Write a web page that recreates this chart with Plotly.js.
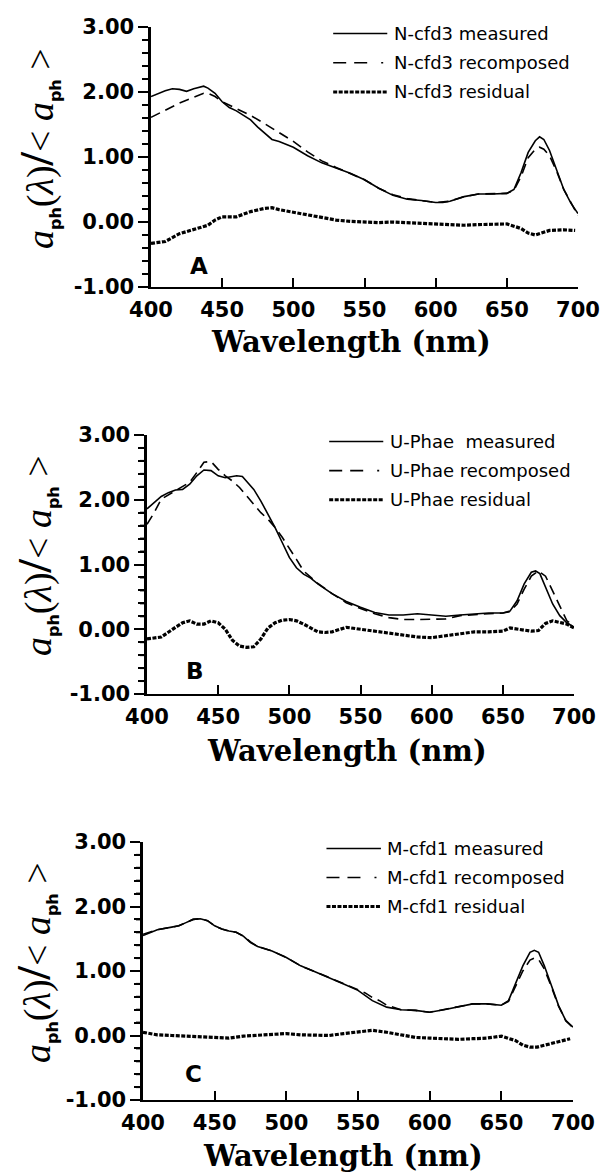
<!DOCTYPE html>
<html>
<head>
<meta charset="utf-8">
<script src="https://cdn.plot.ly/plotly-3.0.1.min.js"></script>
<style>html,body{margin:0;padding:0;background:#fff;}#chart{width:613px;height:1174px;}</style>
</head>
<body>
<div id="chart"></div>
<script>
// ---------- data ----------
const panelLetters = ['A', 'B', 'C'];
const seriesNames = [
  ['N-cfd3 measured', 'N-cfd3 recomposed', 'N-cfd3 residual'],
  ['U-Phae  measured', 'U-Phae recomposed', 'U-Phae residual'],
  ['M-cfd1 measured', 'M-cfd1 recomposed', 'M-cfd1 residual']
];
const xTickVals = [400, 450, 500, 550, 600, 650, 700];
const xTickText = ['400', '450', '500', '550', '600', '650', '700'];
const yTickVals = [-1, 0, 1, 2, 3];
const yTickText = ['-1.00', '0.00', '1.00', '2.00', '3.00'];
const yMinorStep = 0.2;

// Panel A
const wlA_meas = [400,410,415,420,425,430,437,440,445,450,455,460,465,470,475,480,485,490,495,500,510,520,530,540,550,560,570,580,590,600,605,610,620,630,640,650,655,660,665,670,673,676,680,685,690,695,700];
const A_meas = [1.93,2.02,2.05,2.04,2.01,2.05,2.09,2.06,1.98,1.85,1.76,1.71,1.64,1.57,1.46,1.36,1.27,1.24,1.20,1.15,1.02,0.91,0.83,0.75,0.65,0.52,0.41,0.35,0.33,0.30,0.30,0.32,0.39,0.43,0.43,0.44,0.50,0.76,1.07,1.25,1.31,1.27,1.10,0.81,0.50,0.29,0.13];
const wlA_rec = [400,410,420,430,437,440,445,450,460,470,480,490,500,510,520,530,540,550,560,570,580,590,600,610,620,630,640,650,655,660,665,670,673,676,680,685,690,695,700];
const A_rec = [1.61,1.72,1.83,1.92,1.98,1.98,1.93,1.85,1.75,1.64,1.51,1.38,1.24,1.08,0.94,0.84,0.75,0.65,0.52,0.42,0.36,0.33,0.30,0.32,0.39,0.43,0.43,0.44,0.49,0.70,0.99,1.12,1.15,1.12,1.02,0.78,0.50,0.29,0.10];
const wlA_res = [400,410,420,430,440,445,450,460,470,480,485,490,500,510,520,530,540,550,560,570,580,590,600,610,620,630,640,650,660,665,670,675,680,690,698];
const A_res = [-0.33,-0.30,-0.18,-0.12,-0.05,0.03,0.08,0.08,0.16,0.21,0.22,0.19,0.15,0.11,0.06,0.03,0.01,0.0,-0.01,0.0,-0.01,-0.02,-0.03,-0.05,-0.05,-0.04,-0.03,-0.03,-0.10,-0.17,-0.20,-0.17,-0.13,-0.12,-0.13];

// Panel B
const wlB_meas = [400,405,410,415,420,425,430,435,440,445,450,455,460,463,467,470,475,480,485,490,495,500,505,510,515,520,530,540,550,560,570,580,590,600,610,620,630,640,650,655,660,665,670,673,676,680,685,690,695,700];
const B_meas = [1.86,1.96,2.05,2.11,2.15,2.16,2.24,2.37,2.46,2.45,2.37,2.34,2.36,2.37,2.36,2.29,2.16,1.98,1.78,1.57,1.34,1.11,0.95,0.85,0.79,0.70,0.55,0.43,0.34,0.26,0.22,0.22,0.24,0.22,0.20,0.22,0.24,0.25,0.25,0.28,0.44,0.70,0.88,0.90,0.86,0.64,0.39,0.21,0.10,0.03];
const wlB_rec = [400,405,410,420,430,435,440,445,450,455,460,465,470,475,480,485,490,495,500,505,510,515,520,530,540,550,560,570,580,590,600,610,620,630,640,650,655,660,665,670,675,680,685,690,695,700];
const B_rec = [1.62,1.80,2.01,2.14,2.27,2.42,2.58,2.59,2.47,2.37,2.29,2.19,2.06,1.93,1.80,1.70,1.57,1.42,1.26,1.08,0.90,0.80,0.71,0.55,0.41,0.32,0.24,0.18,0.15,0.15,0.16,0.16,0.21,0.23,0.24,0.25,0.27,0.39,0.62,0.82,0.90,0.82,0.59,0.34,0.13,0.05];
const wlB_res = [400,410,420,425,430,435,440,445,450,455,460,465,470,475,480,485,490,495,500,505,510,515,520,525,530,540,550,560,570,580,590,600,610,620,630,640,650,655,660,670,675,680,685,690,695,700];
const B_res = [-0.15,-0.12,0.03,0.10,0.13,0.08,0.08,0.13,0.10,0.0,-0.17,-0.26,-0.28,-0.27,-0.15,0.02,0.10,0.14,0.15,0.13,0.08,0.02,-0.04,-0.05,-0.04,0.03,0.0,-0.03,-0.07,-0.09,-0.12,-0.13,-0.10,-0.07,-0.04,-0.04,-0.03,0.02,0.0,-0.03,-0.02,0.09,0.13,0.10,0.08,0.02];

// Panel C
const wlC_meas = [400,405,410,420,425,430,435,440,445,450,455,460,465,470,475,480,490,500,510,520,530,540,550,560,570,580,590,600,610,620,630,640,650,655,660,665,670,673,676,680,685,690,695,700];
const C_meas = [1.55,1.60,1.64,1.68,1.70,1.75,1.80,1.81,1.78,1.70,1.65,1.62,1.60,1.54,1.44,1.38,1.31,1.21,1.08,0.99,0.90,0.80,0.70,0.54,0.44,0.40,0.39,0.36,0.40,0.45,0.49,0.49,0.47,0.54,0.80,1.08,1.29,1.32,1.29,1.08,0.77,0.46,0.23,0.13];
const wlC_rec = [400,405,410,420,425,430,435,440,445,450,455,460,465,470,475,480,490,500,510,520,530,540,550,555,560,565,570,580,590,600,610,620,630,640,650,655,660,665,670,673,676,680,685,690,695,700];
const C_rec = [1.57,1.61,1.64,1.68,1.70,1.75,1.80,1.81,1.78,1.70,1.65,1.62,1.60,1.54,1.45,1.38,1.31,1.21,1.08,0.99,0.90,0.80,0.71,0.66,0.59,0.54,0.47,0.40,0.39,0.36,0.40,0.45,0.49,0.49,0.47,0.53,0.76,1.00,1.17,1.20,1.18,1.03,0.75,0.45,0.23,0.12];
const wlC_res = [400,410,420,430,440,450,460,470,480,490,500,510,520,530,540,550,560,570,580,590,600,610,620,630,640,650,660,665,670,675,680,690,698];
const C_res = [0.05,0.01,0.0,-0.01,-0.03,-0.03,-0.04,-0.01,0.0,0.01,0.03,0.01,0.0,0.0,0.03,0.05,0.08,0.05,0.01,-0.03,-0.04,-0.05,-0.06,-0.05,-0.04,-0.01,-0.08,-0.15,-0.18,-0.18,-0.15,-0.10,-0.05];

// legend rows (y values in data units) and legend sample span (nm)
const legendRowsY = [2.9, 2.45, 2.0];
const legendLineX = [528, 566];
const legendTextX = 569;
const letterPos = [[434, -0.68], [434, -0.64], [435, -0.6]];

// ---------- layout geometry (pixels) ----------
const W = 613, H = 1174;
const panelsPx = [
  {x0: 151, x1: 578, y0: 27, y1: 287, ytx: 37, yty: 149, xtx: 351, xty: 342},
  {x0: 147, x1: 574, y0: 435, y1: 694, ytx: 36, yty: 556, xtx: 347, xty: 751},
  {x0: 143, x1: 573, y0: 842, y1: 1100, ytx: 34, yty: 963, xtx: 343, xty: 1156}
];

const panels = [
  {wm: wlA_meas, m: A_meas, wr: wlA_rec, r: A_rec, ws: wlA_res, s: A_res},
  {wm: wlB_meas, m: B_meas, wr: wlB_rec, r: B_rec, ws: wlB_res, s: B_res},
  {wm: wlC_meas, m: C_meas, wr: wlC_rec, r: C_rec, ws: wlC_res, s: C_res}
];

// minor tick positions between the major y ticks
const yMinorVals = [];
for (let v = yTickVals[0]; v <= yTickVals[yTickVals.length - 1] + 1e-9; v += yMinorStep) {
  const r = Math.round(v * 10) / 10;
  if (Math.abs(r - Math.round(r)) > 1e-6) yMinorVals.push(r);
}

const styleMeas = {color: '#000', width: 1.6};
const styleRec = {color: '#000', width: 1.6, dash: '10px,6px'};
const styleRes = {color: '#000', width: 3.2, dash: '4px,1.5px'};

const tickFont = {family: 'DejaVu Sans', size: 21, color: '#000', weight: 'bold'};
const legendFont = {family: 'DejaVu Sans', size: 18, color: '#000'};

const traces = [];
const layout = {
  width: W, height: H,
  margin: {l: 0, r: 0, t: 0, b: 0},
  paper_bgcolor: '#fff', plot_bgcolor: '#fff',
  showlegend: false,
  annotations: [], shapes: []
};

const subPh = '<sub><span style="font-family:DejaVu Sans;font-weight:bold;font-size:16px">ph</span></sub>';
const ytitle = '<i>a</i>' + subPh + '(<i>λ</i>)<span style="font-size:48px;font-weight:bold">/</span>&lt; <i>a</i>' + subPh + ' &gt;';

panels.forEach((p, i) => {
  const k = i === 0 ? '' : String(i + 1);
  const xa = 'x' + k, ya = 'y' + k;
  const g = panelsPx[i];
  traces.push({x: p.wm, y: p.m, xaxis: xa, yaxis: ya, mode: 'lines', line: styleMeas, name: seriesNames[i][0]});
  traces.push({x: p.wr, y: p.r, xaxis: xa, yaxis: ya, mode: 'lines', line: styleRec, name: seriesNames[i][1]});
  traces.push({x: p.ws, y: p.s, xaxis: xa, yaxis: ya, mode: 'lines', line: styleRes, name: seriesNames[i][2]});

  layout['xaxis' + k] = {
    domain: [g.x0 / W, g.x1 / W], anchor: ya, range: [400, 700],
    tickmode: 'array', tickvals: xTickVals, ticktext: xTickText,
    ticks: 'inside', ticklen: 9, tickwidth: 2, tickcolor: '#000',
    showline: true, linewidth: 2.2, linecolor: '#000', mirror: false,
    showgrid: false, zeroline: false, tickfont: tickFont, ticklabelstandoff: 3,
    fixedrange: true
  };
  layout['yaxis' + k] = {
    domain: [1 - g.y1 / H, 1 - g.y0 / H], anchor: xa, range: [-1, 3],
    tickmode: 'array', tickvals: yTickVals, ticktext: yTickText,
    ticks: 'outside', ticklen: 10, tickwidth: 2, tickcolor: '#000',
    minor: {tickmode: 'array', tickvals: yMinorVals, ticks: 'outside', ticklen: 6, tickwidth: 2, tickcolor: '#000', showgrid: false},
    showline: true, linewidth: 2.6, linecolor: '#000', mirror: false,
    showgrid: false, zeroline: false, tickfont: tickFont, ticklabelstandoff: 0,
    fixedrange: true
  };

  // small y ticks, drawn against the y axis (x in pixels left of the axis line)
  yMinorVals.forEach(v => {
    layout.shapes.push({type: 'line', xref: xa + ' domain', xsizemode: 'pixel', xanchor: 0, x0: -7, x1: 0,
      yref: ya, y0: v, y1: v, line: {color: '#000', width: 2}, layer: 'above'});
  });

  // axis titles
  layout.annotations.push({
    text: 'Wavelength (nm)', xref: 'paper', yref: 'paper',
    x: g.xtx / W, y: 1 - g.xty / H, xanchor: 'center', yanchor: 'middle', showarrow: false,
    font: {family: 'DejaVu Serif', size: 29, color: '#000', weight: 'bold'}
  });
  layout.annotations.push({
    text: ytitle, xref: 'paper', yref: 'paper', textangle: -90,
    x: g.ytx / W, y: 1 - g.yty / H, xanchor: 'center', yanchor: 'middle', showarrow: false,
    font: {family: 'Liberation Serif', size: 38, color: '#000'}
  });
  // panel letter
  layout.annotations.push({
    text: '<b>' + panelLetters[i] + '</b>', xref: xa, yref: ya,
    x: letterPos[i][0], y: letterPos[i][1], xanchor: 'center', yanchor: 'middle', showarrow: false,
    font: {family: 'DejaVu Sans', size: 23, color: '#000'}
  });
  // legend samples + text
  const sty = [styleMeas, {color: '#000', width: 1.6, dash: '13px,8px,13px,14px,2px,10px'}, styleRes];
  legendRowsY.forEach((yy, j) => {
    layout.shapes.push({type: 'line', xref: xa, yref: ya, x0: legendLineX[0], x1: legendLineX[1], y0: yy, y1: yy,
      line: sty[j]});
    layout.annotations.push({
      text: seriesNames[i][j], xref: xa, yref: ya, x: legendTextX, y: yy,
      xanchor: 'left', yanchor: 'middle', showarrow: false, font: legendFont
    });
  });
});

Plotly.newPlot('chart', traces, layout, {displayModeBar: false, staticPlot: true});
</script>
</body>
</html>
